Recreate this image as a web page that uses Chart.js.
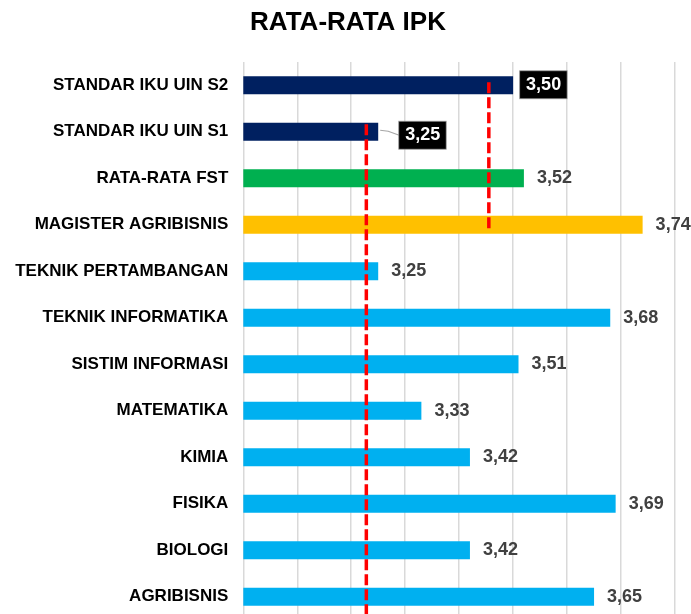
<!DOCTYPE html>
<html>
<head>
<meta charset="utf-8">
<style>
html,body{margin:0;padding:0;overflow:hidden;background:#fff}
canvas{display:block}
</style>
</head>
<body>
<canvas id="c" width="691" height="620"></canvas>
<script src="https://cdn.jsdelivr.net/npm/chart.js@4/dist/chart.umd.min.js"></script>
<script>
const chartTitle = 'RATA-RATA IPK';
const categories = ['STANDAR IKU UIN S2', 'STANDAR IKU UIN S1', 'RATA-RATA FST', 'MAGISTER AGRIBISNIS', 'TEKNIK PERTAMBANGAN', 'TEKNIK INFORMATIKA', 'SISTIM INFORMASI', 'MATEMATIKA', 'KIMIA', 'FISIKA', 'BIOLOGI', 'AGRIBISNIS'];
const ipkValues = [3.50, 3.25, 3.52, 3.74, 3.25, 3.68, 3.51, 3.33, 3.42, 3.69, 3.42, 3.65];
const barColors = ['#002060', '#002060', '#00B050', '#FFC000', '#00B0F0', '#00B0F0', '#00B0F0', '#00B0F0', '#00B0F0', '#00B0F0', '#00B0F0', '#00B0F0'];
const boxedLabels = ['STANDAR IKU UIN S2', 'STANDAR IKU UIN S1'];
const axisMin = 3.0;
const axisMax = 3.8;
const axisStep = 0.1;
// hand-drawn red dashed reference lines (value, from category, to category)
const refLineValues = [3.228, 3.455];
const refLineFrom = ['STANDAR IKU UIN S1', 'STANDAR IKU UIN S2'];
const refLineTo = [null, 'MAGISTER AGRIBISNIS'];

const FONT = '"Liberation Sans", Arial, Helvetica, sans-serif';

function fmt(v) { return v.toFixed(2).replace('.', ','); }

const titlePlugin = {
  id: 'centerTitle',
  afterDraw(chart) {
    const ctx = chart.ctx;
    ctx.save();
    ctx.font = 'bold 26px ' + FONT;
    ctx.fillStyle = '#000000';
    ctx.textAlign = 'center';
    ctx.textBaseline = 'middle';
    ctx.fillText(chartTitle, 348, 23);
    ctx.restore();
  }
};

const overlayPlugin = {
  id: 'overlay',
  afterDatasetsDraw(chart) {
    const ctx = chart.ctx;
    const xs = chart.scales.x;
    const meta = chart.getDatasetMeta(0);
    const bars = meta.data;
    const area = chart.chartArea;

    // red dashed lines
    ctx.save();
    ctx.strokeStyle = '#FF0000';
    ctx.lineWidth = 3.5;
    ctx.setLineDash([11, 4]);
    refLineValues.forEach((v, i) => {
      const x = xs.getPixelForValue(v);
      const fromBar = bars[categories.indexOf(refLineFrom[i])];
      const y0 = fromBar.y - fromBar.height / 2 + (i === 1 ? 6 : 1.5);
      let y1;
      if (refLineTo[i] === null) {
        y1 = area.bottom;
      } else {
        const toBar = bars[categories.indexOf(refLineTo[i])];
        y1 = toBar.y + toBar.height / 2 - 3;
      }
      ctx.beginPath();
      ctx.moveTo(x, y0);
      ctx.lineTo(x, y1);
      ctx.stroke();
    });
    ctx.restore();

    // data labels
    ctx.save();
    ctx.font = 'bold 18px ' + FONT;
    ctx.textBaseline = 'middle';
    ctx.textAlign = 'left';
    bars.forEach((bar, i) => {
      const txt = fmt(ipkValues[i]);
      const w = ctx.measureText(txt).width;
      const cat = categories[i];
      if (boxedLabels.includes(cat)) {
        const shifted = cat === 'STANDAR IKU UIN S1';
        const tx = bar.x + (shifted ? 27 : 13);
        const cy = bar.y + (shifted ? 3.5 : -0.5);
        if (shifted) {
          ctx.save();
          ctx.strokeStyle = '#A6A6A6';
          ctx.lineWidth = 1.2;
          ctx.beginPath();
          ctx.moveTo(bar.x + 2, bar.y - 1.5);
          ctx.lineTo(bar.x + 10, bar.y - 0.5);
          ctx.lineTo(tx - 6, cy);
          ctx.stroke();
          ctx.restore();
        }
        ctx.fillStyle = '#000000';
        ctx.fillRect(tx - 6.5, cy - 14, w + 12.5, 28);
        ctx.strokeStyle = 'rgba(160,160,160,0.7)';
        ctx.lineWidth = 1;
        ctx.strokeRect(tx - 6.5, cy - 14, w + 12.5, 28);
        ctx.fillStyle = '#FFFFFF';
        ctx.fillText(txt, tx, cy);
      } else {
        ctx.fillStyle = '#404040';
        ctx.fillText(txt, bar.x + 13, bar.y);
      }
    });
    ctx.restore();
  }
};

new Chart(document.getElementById('c'), {
  type: 'bar',
  data: {
    labels: categories,
    datasets: [{
      data: ipkValues,
      backgroundColor: barColors,
      borderWidth: 0,
      barPercentage: 0.39,
      categoryPercentage: 1.0
    }]
  },
  options: {
    indexAxis: 'y',
    responsive: false,
    animation: false,
    devicePixelRatio: 1,
    layout: { autoPadding: false, padding: { left: 0, right: 16, top: 62, bottom: 0 } },
    plugins: {
      legend: { display: false },
      tooltip: { enabled: false },
      title: { display: false }
    },
    scales: {
      x: {
        min: axisMin,
        max: axisMax,
        ticks: { display: false, stepSize: axisStep },
        grid: { color: '#D9D9D9', lineWidth: 1.5, drawTicks: false },
        border: { display: false }
      },
      y: {
        ticks: { color: '#000000', font: { family: FONT, size: 17, weight: 'bold' }, padding: 15 },
        grid: { display: false, drawTicks: false },
        border: { display: false },
        afterFit(s) {
          s.width = 243.3;
          s.paddingTop = 0;
          s.paddingBottom = 0;
        }
      }
    }
  },
  plugins: [overlayPlugin, titlePlugin]
});
</script>
</body>
</html>
